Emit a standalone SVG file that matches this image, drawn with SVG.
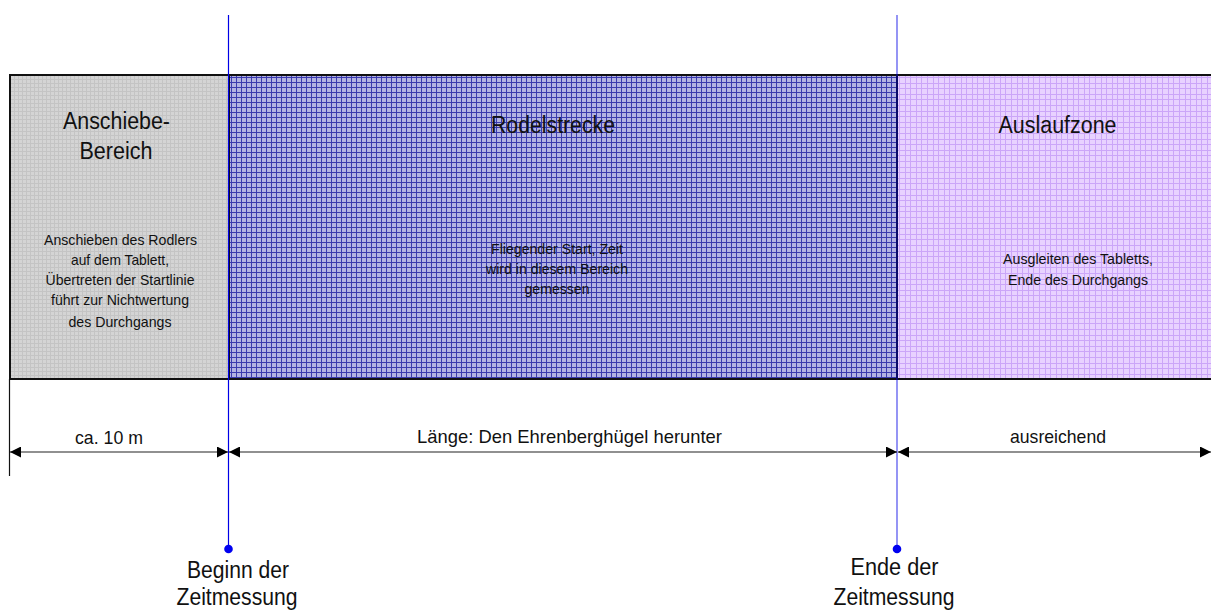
<svg xmlns="http://www.w3.org/2000/svg" width="1211" height="610" viewBox="0 0 1211 610">
<style>
text{font-family:"Liberation Sans",Arial,sans-serif;fill:#111;text-anchor:middle}
.h{font-size:23.500px}.s{font-size:15px}.m{font-size:19px}.b{font-size:23.500px}
.box{stroke:#111;stroke-width:2}
.t{stroke:#0000e6;stroke-width:1.200;fill:none}
.d{stroke:#222;stroke-width:1.200;fill:none;marker-start:url(#a);marker-end:url(#a)}
</style>
<defs>
<marker id="a" viewBox="0 0 11 11" refX="11" refY="5.500" markerUnits="userSpaceOnUse" markerWidth="11" markerHeight="11" orient="auto-start-reverse"><path d="M0 0L11 5.500L0 11Z" fill="#000"/></marker>
<pattern id="pg" width="8" height="8" patternUnits="userSpaceOnUse" x="10" y="75"><rect width="8" height="8" fill="#d4d4d4"/><path d="M0 .5H8M.5 0V8M0 4.500H8M4.500 0V8" stroke="#c4c4c4" stroke-width="1"/></pattern>
<pattern id="pb" width="5" height="5" patternUnits="userSpaceOnUse" x="229" y="75"><rect width="5" height="5" fill="#b2b2e2"/><path d="M0 2.500H5M2.500 0V5" stroke="#3a3aae" stroke-width="1"/></pattern>
<pattern id="pv" width="28" height="28" patternUnits="userSpaceOnUse" x="897" y="75"><rect width="28" height="28" fill="#e8d2ff"/><path d="M0 2.500H28M0 8.500H28M0 13.500H28M0 19.500H28M0 24.500H28M2.500 0V28M8.500 0V28M13.500 0V28M19.500 0V28M24.500 0V28" stroke="#cba6f8" stroke-width="1"/></pattern>
</defs>
<g id="zone-anschiebe">
<rect class="box" x="10" y="75" width="219" height="304" fill="url(#pg)"/>
<text class="h" x="116.500" y="129" textLength="107" lengthAdjust="spacingAndGlyphs">Anschiebe-</text>
<text class="h" x="116" y="159" textLength="73" lengthAdjust="spacingAndGlyphs">Bereich</text>
<text class="s" x="120.500" y="245" textLength="153" lengthAdjust="spacingAndGlyphs">Anschieben des Rodlers</text>
<text class="s" x="120" y="265" textLength="98" lengthAdjust="spacingAndGlyphs">auf dem Tablett,</text>
<text class="s" x="120" y="285" textLength="149" lengthAdjust="spacingAndGlyphs">Übertreten der Startlinie</text>
<text class="s" x="120" y="305" textLength="138" lengthAdjust="spacingAndGlyphs">führt zur Nichtwertung</text>
<text class="s" x="120" y="327" textLength="103" lengthAdjust="spacingAndGlyphs">des Durchgangs</text>
</g>
<g id="zone-rodelstrecke">
<rect class="box" x="229" y="75" width="668" height="304" fill="url(#pb)"/>
<text class="h" x="553" y="133" textLength="124" lengthAdjust="spacingAndGlyphs">Rodelstrecke</text>
<text class="s" x="557" y="254" textLength="132" lengthAdjust="spacingAndGlyphs">Fliegender Start, Zeit</text>
<text class="s" x="557" y="274" textLength="142" lengthAdjust="spacingAndGlyphs">wird in diesem Bereich</text>
<text class="s" x="557" y="294" textLength="65" lengthAdjust="spacingAndGlyphs">gemessen</text>
</g>
<g id="zone-auslauf">
<rect class="box" x="897" y="75" width="316" height="304" fill="url(#pv)"/>
<text class="h" x="1057.500" y="133" textLength="118" lengthAdjust="spacingAndGlyphs">Auslaufzone</text>
<text class="s" x="1078" y="264" textLength="150" lengthAdjust="spacingAndGlyphs">Ausgleiten des Tabletts,</text>
<text class="s" x="1078" y="285" textLength="140" lengthAdjust="spacingAndGlyphs">Ende des Durchgangs</text>
</g>
<g id="connectors">
<path d="M9.500 379V476" stroke="#111" stroke-width="1.200" fill="none"/>
<path class="t" d="M228.500 15V549"/>
<path class="t" d="M897 15V549" stroke-opacity=".7"/>
<circle cx="228.500" cy="549" r="4.300" fill="#0000f0"/>
<circle cx="897" cy="549" r="4.300" fill="#0000f0"/>
<path class="d" d="M10 452H228"/>
<path class="d" d="M229 452H897"/>
<path class="d" d="M898 452H1211"/>
</g>
<g id="label-ca"><text class="m" x="109" y="444" textLength="68" lengthAdjust="spacingAndGlyphs">ca. 10 m</text></g>
<g id="label-laenge"><text class="m" x="569.500" y="443" textLength="305" lengthAdjust="spacingAndGlyphs">Länge: Den Ehrenberghügel herunter</text></g>
<g id="label-ausreichend"><text class="m" x="1058" y="443" textLength="96" lengthAdjust="spacingAndGlyphs">ausreichend</text></g>
<g id="label-beginn"><text class="b" x="238" y="578" textLength="102" lengthAdjust="spacingAndGlyphs">Beginn der</text><text class="b" x="237" y="605" textLength="121" lengthAdjust="spacingAndGlyphs">Zeitmessung</text></g>
<g id="label-ende"><text class="b" x="894.500" y="575" textLength="88" lengthAdjust="spacingAndGlyphs">Ende der</text><text class="b" x="894" y="605" textLength="121" lengthAdjust="spacingAndGlyphs">Zeitmessung</text></g>
</svg>
